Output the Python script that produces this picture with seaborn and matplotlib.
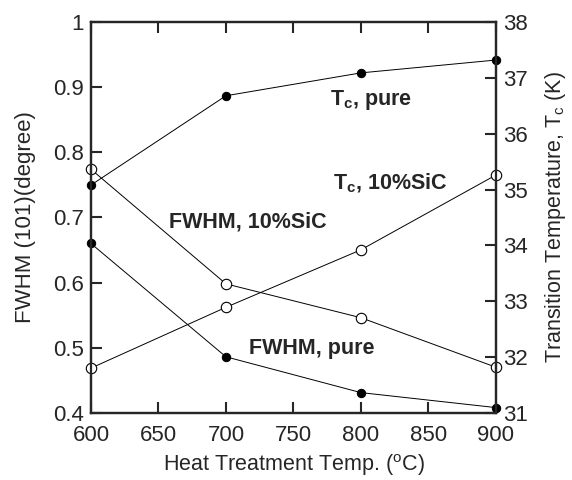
import matplotlib
matplotlib.use("Agg")
import matplotlib.pyplot as plt
import pandas as pd
import seaborn as sns

# heat treatment temperatures (C)
temps = [600, 700, 800, 900]

# FWHM (101) in degrees, left axis
fwhm_pure = [0.660, 0.486, 0.431, 0.408]
fwhm_sic = [0.774, 0.598, 0.546, 0.470]

# transition temperature Tc (K), right axis
tc_pure = [35.08, 36.68, 37.09, 37.32]
tc_sic = [31.80, 32.89, 33.92, 35.26]

sns.set_style("ticks")
plt.rcParams["font.family"] = ["Liberation Sans", "DejaVu Sans"]
plt.rcParams["mathtext.fontset"] = "custom"
plt.rcParams["mathtext.rm"] = "Liberation Sans"
plt.rcParams["mathtext.bf"] = "Liberation Sans:bold"
plt.rcParams["mathtext.default"] = "regular"

df = pd.DataFrame({
    "temp": temps,
    "fwhm_pure": fwhm_pure,
    "fwhm_sic": fwhm_sic,
    "tc_pure": tc_pure,
    "tc_sic": tc_sic,
})

fig = plt.figure(figsize=(5.72, 4.8), dpi=100)
ax = fig.add_axes([0.159, 0.140, 0.708, 0.814])
ax2 = ax.twinx()

filled = dict(color="black", lw=0.7, marker="o", markersize=6,
              markerfacecolor="black", markeredgecolor="black", clip_on=False)
hollow = dict(color="black", lw=0.7, marker="o", markersize=7.5,
              markerfacecolor="white", markeredgecolor="black",
              markeredgewidth=0.8, clip_on=False)

sns.lineplot(data=df, x="temp", y="fwhm_pure", ax=ax, **filled)
sns.lineplot(data=df, x="temp", y="fwhm_sic", ax=ax, **hollow)
sns.lineplot(data=df, x="temp", y="tc_pure", ax=ax2, **filled)
sns.lineplot(data=df, x="temp", y="tc_sic", ax=ax2, **hollow)

ax.set_xlim(600, 900)
ax.set_ylim(0.4, 1.0)
ax2.set_ylim(31, 38)
ax.set_xticks(range(600, 901, 50))
ax.set_yticks([0.4, 0.5, 0.6, 0.7, 0.8, 0.9, 1.0])
ax.set_yticklabels(["0.4", "0.5", "0.6", "0.7", "0.8", "0.9", "1"])
ax2.set_yticks(range(31, 39))

ax.tick_params(axis="x", direction="in", length=8, width=1.5, top=True,
               labelsize=16, pad=9)
ax.tick_params(axis="y", direction="in", length=8, width=1.5, right=False,
               labelsize=16, pad=5)
ax2.tick_params(axis="y", direction="in", length=8, width=1.5,
                labelsize=16, pad=5)
for a in (ax, ax2):
    for sp in a.spines.values():
        sp.set_linewidth(1.6)
        sp.set_visible(True)

ax.set_xlabel(r"Heat Treatment Temp. ($^{o}$C)", fontsize=15.5, labelpad=4)
ax.set_ylabel("FWHM (101)(degree)", fontsize=16, labelpad=12)
ax2.set_ylabel(r"Transition Temperature, T$_c$ (K)", fontsize=15.5, labelpad=11)

lab = dict(fontsize=15.5, fontweight="bold", ha="left", va="center")
ax.text(777, 0.880, r"$\mathbf{T_c}$, pure", **lab)
ax.text(779, 0.753, r"$\mathbf{T_c}$, 10%SiC", **lab)
ax.text(658, 0.693, "FWHM, 10%SiC", **lab)
ax.text(717, 0.498, "FWHM, pure", **lab)

fig.savefig("out.png", dpi=100)
